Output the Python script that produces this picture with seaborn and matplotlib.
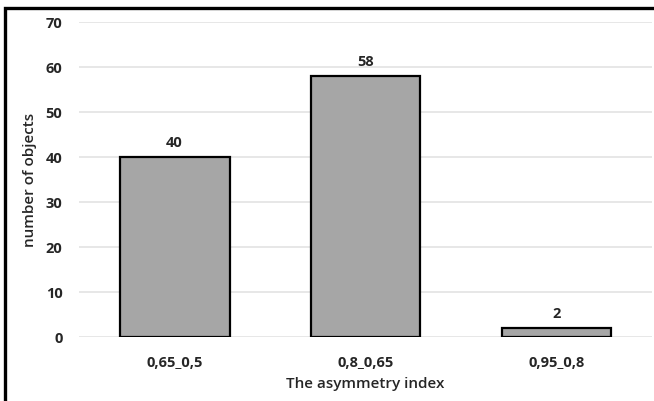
import pandas as pd
import matplotlib
matplotlib.use("Agg")
import matplotlib.pyplot as plt
import seaborn as sns
from matplotlib.patches import Rectangle

# ========== DATA ==========
categories = ["0,65_0,5", "0,8_0,65", "0,95_0,8"]
counts = [40, 58, 2]

df = pd.DataFrame({"index": categories, "count": counts})

sns.set_style("white")
plt.rcParams['font.family'] = ['Open Sans', 'DejaVu Sans']

fig = plt.figure(figsize=(6.54, 4.01), dpi=100)
ax = fig.add_axes([0.121, 0.1596, 0.876, 0.7855])

sns.barplot(data=df, x="index", y="count", color="#a6a6a6", saturation=1,
            edgecolor="black", linewidth=1.6, width=0.575, ax=ax, zorder=3)

ax.set_ylim(0, 70)
ax.set_xlim(-0.5, 2.5)
ax.set_yticks(range(0, 71, 10))
ax.yaxis.grid(True, color="#e3e3e3", linewidth=1.2, zorder=0)
ax.set_axisbelow(True)
for s in ax.spines.values():
    s.set_visible(False)
ax.tick_params(axis="y", length=0, pad=12, labelsize=10.5)
ax.tick_params(axis="x", length=0, pad=14, labelsize=10.5)
for lab in ax.get_xticklabels() + ax.get_yticklabels():
    lab.set_fontweight("bold")
    lab.set_color("#262626")

ax.set_xlabel("The asymmetry index", fontsize=11, fontweight="semibold",
              color="#262626", labelpad=5)
ax.set_ylabel("number of objects", fontsize=11, fontweight="semibold",
              color="#262626", labelpad=6)

for i, v in enumerate(counts):
    ax.annotate(str(v), (i, v), xytext=(0, 5), textcoords="offset points",
                ha="center", va="bottom", fontsize=10.5, fontweight="bold",
                color="#262626")

# outer frame (right and bottom edges cut off like the reference)
fig.patches.append(Rectangle((0.007, -0.02), 1.05, 1.0, transform=fig.transFigure,
                             fill=False, edgecolor="black", linewidth=2.4))

fig.savefig("out.png", dpi=100)
